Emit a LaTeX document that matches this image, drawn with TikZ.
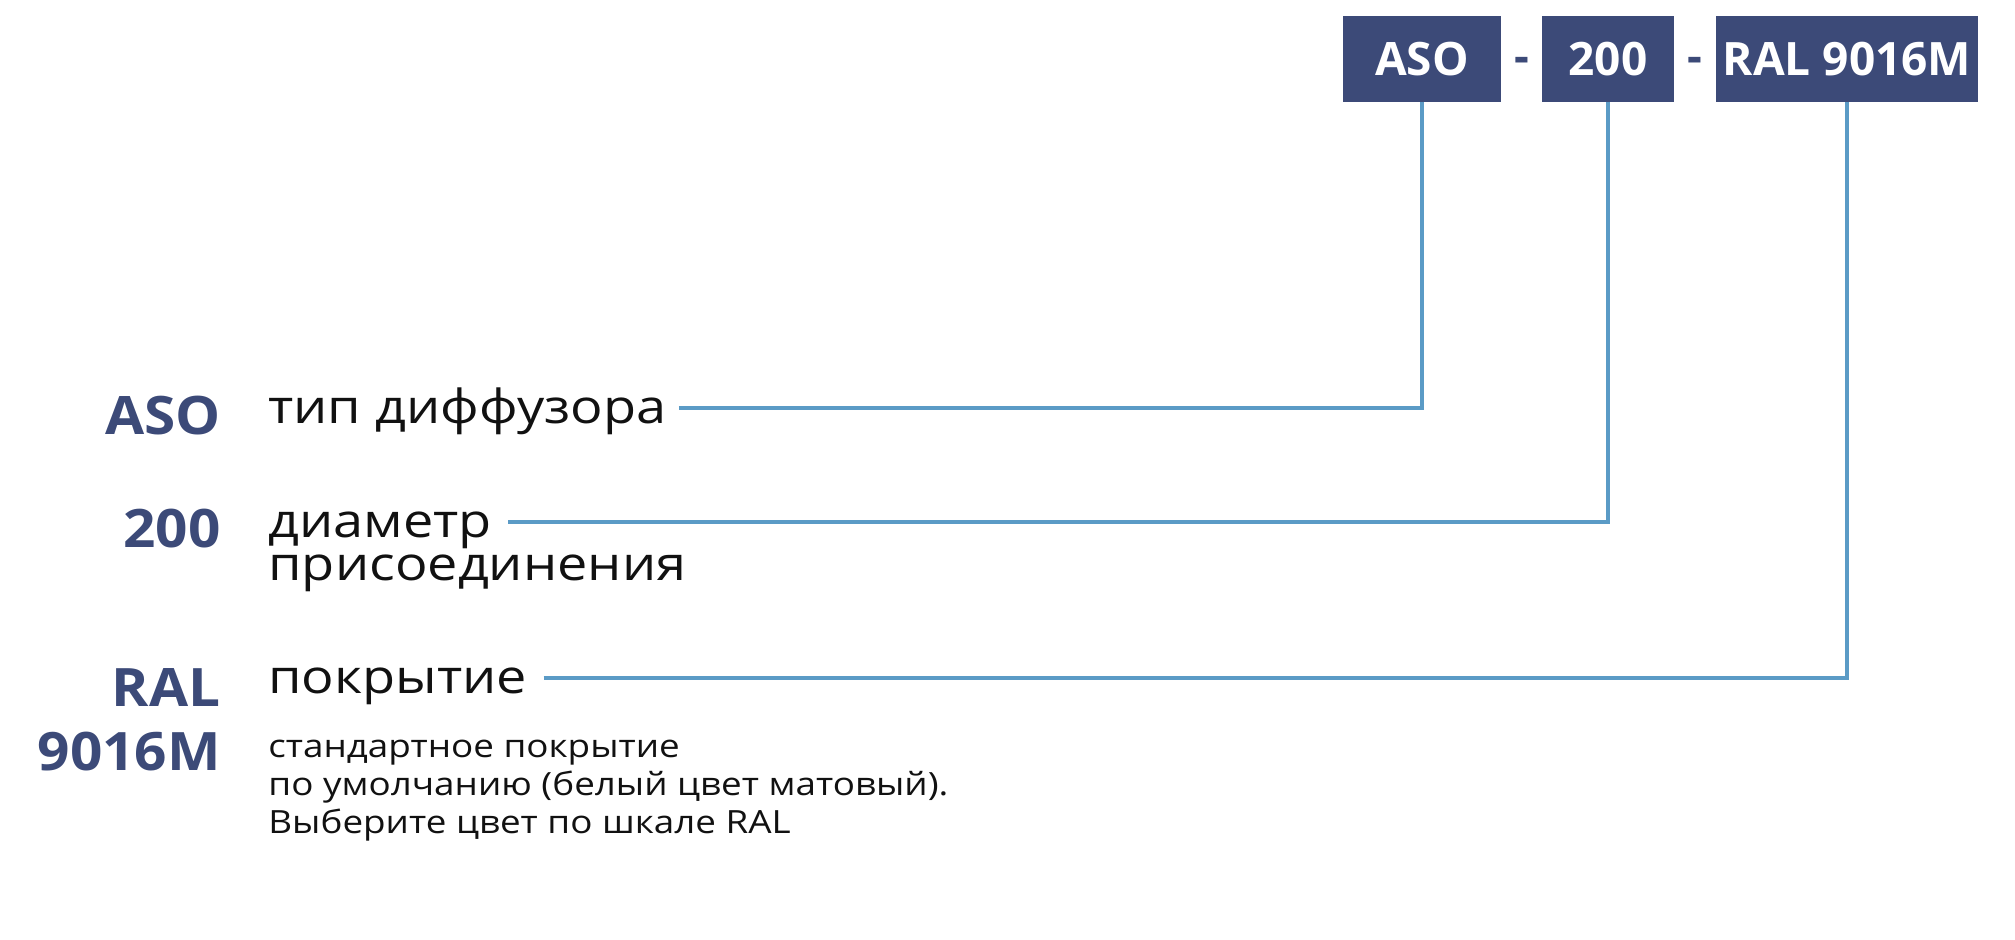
\documentclass[tikz,border=0pt]{standalone}
\usepackage{fontspec}
\setmainfont{Open Sans}
\newfontfamily\widesans[FakeStretch=1.15]{Open Sans}
\newfontfamily\labsans[FakeStretch=1.07]{Open Sans}
\definecolor{boxblue}{HTML}{3C4A78}
\definecolor{linkblue}{HTML}{5B9BC6}
\definecolor{inkblack}{HTML}{111111}

\begin{document}
\begin{tikzpicture}[x=0.5pt,y=-0.5pt]
	\tikzstyle{code}=[fill=boxblue,text=white,font=\fontsize{23}{26}\selectfont\bfseries,minimum height=43pt,inner sep=0pt];
	\tikzstyle{sep}=[text=boxblue,font=\fontsize{23}{26}\selectfont\bfseries,inner sep=0pt,anchor=base];
	\tikzstyle{lab}=[text=boxblue,font=\labsans\fontsize{26.5}{30}\selectfont\bfseries,inner sep=0pt,anchor=base east];
	\tikzstyle{desc}=[text=inkblack,font=\widesans\fontsize{23.5}{27}\selectfont,inner sep=0pt,anchor=base west,text height=15pt,text depth=0pt];
	\tikzstyle{note}=[text=inkblack,font=\widesans\fontsize{16}{18.8}\selectfont,inner sep=0pt,anchor=north west,align=left];
	\tikzstyle{link}=[draw=linkblue,line width=2pt];

	\useasboundingbox (0,0) rectangle (2015,939);

	% code boxes
	\node[code,minimum width=79pt]  (codeASO) at (1422,59) {ASO};
	\node[code,minimum width=66pt]  (code200) at (1608,59) {200};
	\node[code,minimum width=131pt] (codeRAL) at (1847,59) {RAL 9016M};
	\node[sep] (sepA) at (1522,72) {-};
	\node[sep] (sepB) at (1695,72) {-};

	% legend
	\node[lab] (labASO)  at (221,434) {ASO};
	\node[lab] (lab200)  at (221,547) {200};
	\node[lab] (labRAL)  at (221,706) {RAL};
	\node[lab] (labRALb) at (221,770) {9016M};
	\node[desc] (descASO)   at (268,423) {тип диффузора};
	\node[desc] (descDiam)  at (268,537) {диаметр};
	\node[desc] (descDiamB) at (268,580) {присоединения};
	\node[desc] (descCoat)  at (268,693) {покрытие};
	\node[note] (noteCoat)  at (268,740) {стандартное покрытие\\по умолчанию (белый цвет матовый).\\Выберите цвет по шкале RAL};

	% connectors
	\draw[link] ([xshift=6pt]descASO.east) -| (codeASO.south);
	\draw[link] ([xshift=8pt]descDiam.east) -| (code200.south);
	\draw[link] ([xshift=8pt]descCoat.east) -| (codeRAL.south);
\end{tikzpicture}
\end{document}
